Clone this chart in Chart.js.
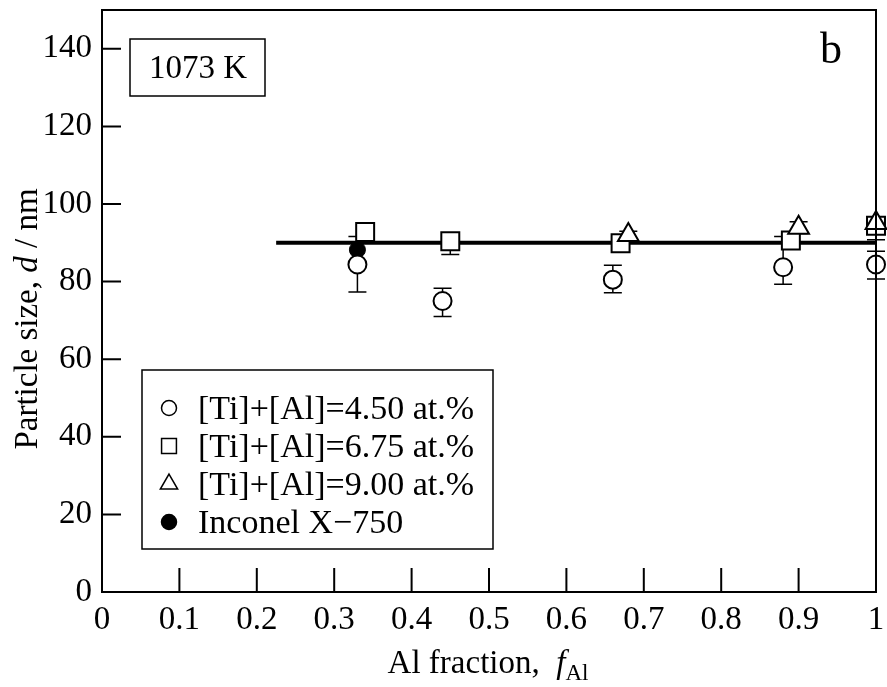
<!DOCTYPE html>
<html>
<head>
<meta charset="utf-8">
<script src="https://cdn.jsdelivr.net/npm/chart.js@4.4.1/dist/chart.umd.min.js"></script>
<style>
html, body { margin:0; padding:0; background:#fff; }
</style>
</head>
<body>
<canvas id="graph" width="887" height="687"></canvas>
<script>
// donnees (1073 K)
var fracCercle = [0.33, 0.44, 0.66, 0.88, 1.0];
var tailleCercle = [84.4, 75.0, 80.5, 83.7, 84.4];
var errHautCercle = [7.2, 3.3, 3.7, 7.9, 3.4];
var errBasCercle = [7.1, 4.0, 3.4, 4.4, 3.7];

var fracCarre = [0.34, 0.45, 0.67, 0.89, 1.0];
var tailleCarre = [92.8, 90.4, 89.9, 90.6, 94.4];
var errHautCarre = [1.5, 1.5, 1.5, 1.5, 2.0];
var errBasCarre = [1.5, 3.4, 1.5, 1.5, 3.6];

var fracTriangle = [0.68, 0.90, 1.0];
var tailleTriangle = [92.0, 93.9, 95.1];
var errHautTriangle = [1.0, 1.5, 1.0];
var errBasTriangle = [1.0, 1.5, 1.8];

var fracInconel = [0.33];
var tailleInconel = [88.2];

var fracDroite = [0.225, 1.0];
var tailleDroite = [90, 90];

var ticksX = [0, 0.1, 0.2, 0.3, 0.4, 0.5, 0.6, 0.7, 0.8, 0.9, 1];
var ticksY = [0, 20, 40, 60, 80, 100, 120, 140];

var police = "'Liberation Serif', 'Times New Roman', serif";

function points(xs, ys) {
    var res = [];
    for (var i in xs)
        res.push({x: xs[i], y: ys[i]});
    return res;
}

function texteMixte(ctx, morceaux, x, y) {
    // morceaux : [texte, style, taille, decalage]
    var total = 0;
    morceaux.forEach(function(m) {
        ctx.font = m[1] + ' ' + m[2] + 'px ' + police;
        total += ctx.measureText(m[0]).width;
    });
    var cx = x - total / 2;
    morceaux.forEach(function(m) {
        ctx.font = m[1] + ' ' + m[2] + 'px ' + police;
        ctx.fillText(m[0], cx, y + m[3]);
        cx += ctx.measureText(m[0]).width;
    });
}

var decor = {
    id: 'decor',
    beforeDatasetsDraw: function(chart) {
        // barres d'erreur sous les symboles
        var ctx = chart.ctx;
        var sx = chart.scales.x, sy = chart.scales.y;
        ctx.save();
        ctx.strokeStyle = '#000';
        ctx.lineWidth = 1.5;
        chart.data.datasets.forEach(function(ds) {
            if (!ds.errHaut) return;
            ds.data.forEach(function(p, j) {
                var px = sx.getPixelForValue(p.x);
                var yh = sy.getPixelForValue(p.y + ds.errHaut[j]);
                var yb = sy.getPixelForValue(p.y - ds.errBas[j]);
                ctx.beginPath();
                ctx.moveTo(px, yh); ctx.lineTo(px, yb);
                ctx.moveTo(px - 9, yh); ctx.lineTo(px + 9, yh);
                ctx.moveTo(px - 9, yb); ctx.lineTo(px + 9, yb);
                ctx.stroke();
            });
        });
        ctx.restore();
    },
    afterDatasetsDraw: function(chart) {
        var ctx = chart.ctx;
        var a = chart.chartArea;
        var sx = chart.scales.x, sy = chart.scales.y;
        ctx.save();
        ctx.strokeStyle = '#000';
        ctx.lineWidth = 2;
        ctx.strokeRect(a.left, a.top, a.right - a.left, a.bottom - a.top);
        ctx.beginPath();
        ticksY.forEach(function(v) {
            var py = sy.getPixelForValue(v);
            ctx.moveTo(a.left, py); ctx.lineTo(a.left + 19, py);
        });
        ticksX.forEach(function(v) {
            var px = sx.getPixelForValue(v);
            ctx.moveTo(px, a.bottom); ctx.lineTo(px, a.bottom - 24);
        });
        ctx.stroke();
        ctx.restore();
    },
    afterDraw: function(chart) {
        var ctx = chart.ctx;
        ctx.save();
        ctx.fillStyle = '#000';
        ctx.strokeStyle = '#000';
        ctx.textBaseline = 'alphabetic';

        // titre axe x
        texteMixte(ctx, [['Al fraction,  ', 'normal', 33, 0], ['f', 'italic', 33, 0], ['Al', 'normal', 23, 7]], 488, 673);

        // titre axe y
        ctx.save();
        ctx.translate(37, 319);
        ctx.rotate(-Math.PI / 2);
        texteMixte(ctx, [['Particle size, ', 'normal', 33, 0], ['d', 'italic', 33, 0], [' / nm', 'normal', 33, 0]], 0, 0);
        ctx.restore();

        // cadre temperature
        ctx.lineWidth = 1.5;
        ctx.strokeRect(130, 39, 135, 57);
        ctx.font = '33px ' + police;
        ctx.textAlign = 'center';
        ctx.fillText('1073 K', 198, 78);
        ctx.font = '44px ' + police;
        ctx.textAlign = 'left';
        ctx.fillText('b', 820, 63);

        // legende
        ctx.strokeRect(142, 370, 351, 179);
        var lignes = [408, 446, 484, 522];
        var styles = [
            {pointStyle: 'circle', radius: 7.5, fond: '#fff'},
            {pointStyle: 'rect', radius: 10.5, fond: '#fff'},
            {pointStyle: 'triangle', radius: 10, fond: '#fff'},
            {pointStyle: 'circle', radius: 7.5, fond: '#000'}
        ];
        ctx.font = '34px ' + police;
        ctx.textBaseline = 'middle';
        for (var i = 0; i < 4; i++) {
            ctx.fillStyle = styles[i].fond;
            ctx.lineWidth = 1.5;
            Chart.helpers.drawPoint(ctx, {pointStyle: styles[i].pointStyle, radius: styles[i].radius, rotation: 0, borderWidth: 1.5}, 169, lignes[i]);
            ctx.fillStyle = '#000';
            ctx.fillText(chart.data.datasets[i].label, 198, lignes[i] + 2);
        }
        ctx.restore();
    }
};

var chartdata = {
    datasets: [
        {
            label: '[Ti]+[Al]=4.50 at.%',
            data: points(fracCercle, tailleCercle),
            errHaut: errHautCercle, errBas: errBasCercle,
            pointStyle: 'circle', pointRadius: 9,
            backgroundColor: '#fff', borderColor: '#000', borderWidth: 2,
            order: 3, clip: false
        },
        {
            label: '[Ti]+[Al]=6.75 at.%',
            data: points(fracCarre, tailleCarre),
            errHaut: errHautCarre, errBas: errBasCarre,
            pointStyle: 'rect', pointRadius: 12.7,
            backgroundColor: '#fff', borderColor: '#000', borderWidth: 2,
            order: 2, clip: false
        },
        {
            label: '[Ti]+[Al]=9.00 at.%',
            data: points(fracTriangle, tailleTriangle),
            errHaut: errHautTriangle, errBas: errBasTriangle,
            pointStyle: 'triangle', pointRadius: 12,
            backgroundColor: '#fff', borderColor: '#000', borderWidth: 2,
            order: 1, clip: false
        },
        {
            label: 'Inconel X\u2212750',
            data: points(fracInconel, tailleInconel),
            pointStyle: 'circle', pointRadius: 8,
            backgroundColor: '#000', borderColor: '#000', borderWidth: 1,
            order: 4, clip: false
        },
        {
            label: 'droite',
            type: 'line',
            data: points(fracDroite, tailleDroite),
            borderColor: '#000', borderWidth: 4,
            pointRadius: 0, fill: false,
            order: 5, clip: false
        }
    ]
};

var myGraph = new Chart(document.getElementById('graph'), {
    type: 'scatter',
    data: chartdata,
    plugins: [decor],
    options: {
        responsive: false,
        animation: false,
        layout: { autoPadding: false, padding: { top: 10, right: 11, left: 0, bottom: 0 } },
        plugins: {
            legend: { display: false },
            tooltip: { enabled: false }
        },
        scales: {
            x: {
                type: 'linear',
                min: 0,
                max: 1,
                afterBuildTicks: function(s) { s.ticks = ticksX.map(function(v) { return {value: v}; }); },
                afterFit: function(s) { s.height = 95; s.paddingLeft = 0; s.paddingRight = 0; },
                grid: { display: false, drawTicks: false },
                border: { display: false },
                ticks: {
                    color: '#000',
                    padding: 9,
                    maxRotation: 0,
                    autoSkip: false,
                    font: { family: police, size: 33 },
                    callback: function(v) { return String(Math.round(v * 10) / 10); }
                }
            },
            y: {
                type: 'linear',
                min: 0,
                max: 150,
                afterBuildTicks: function(s) { s.ticks = ticksY.map(function(v) { return {value: v}; }); },
                afterFit: function(s) { s.width = 102; s.paddingTop = 0; s.paddingBottom = 0; },
                grid: { display: false, drawTicks: false },
                border: { display: false },
                ticks: {
                    color: '#000',
                    padding: 10,
                    autoSkip: false,
                    font: { family: police, size: 33 }
                }
            }
        }
    }
});
</script>
</body>
</html>
